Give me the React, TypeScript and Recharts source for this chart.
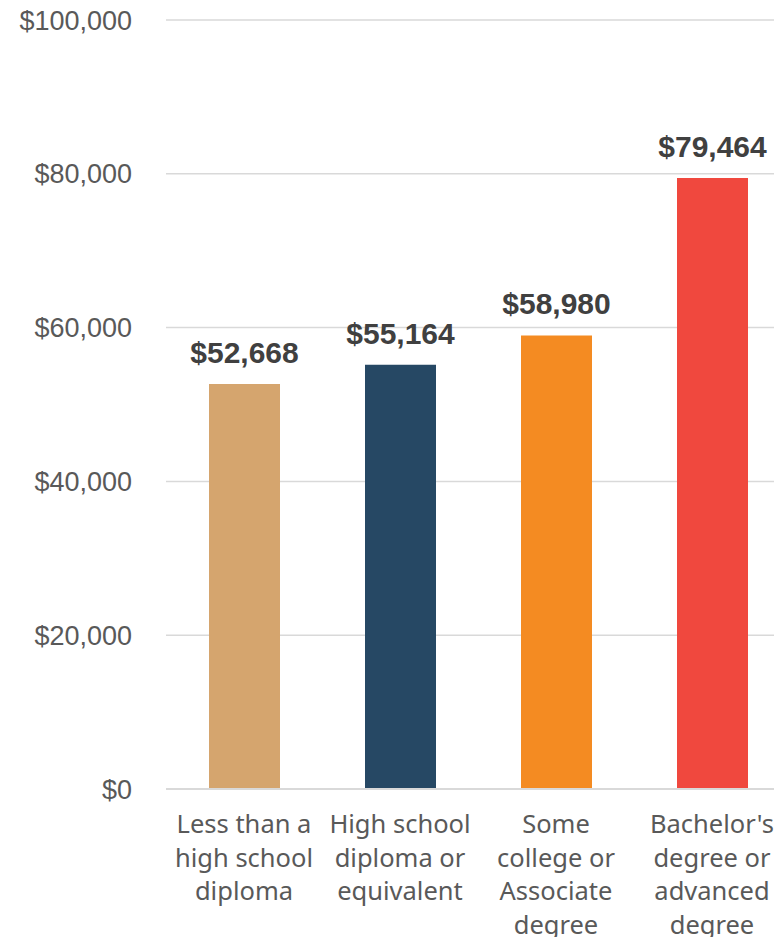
import { Bar, BarChart, CartesianGrid, Cell, LabelList, XAxis, YAxis } from 'recharts'

const categories = [
  'Less than a\nhigh school\ndiploma',
  'High school\ndiploma or\nequivalent',
  'Some\ncollege or\nAssociate\ndegree',
  "Bachelor's\ndegree or\nadvanced\ndegree",
]
const incomes = [52668, 55164, 58980, 79464]
const barColors = ['#D5A56E', '#264864', '#F48B22', '#F0483E']
const yTicks = [0, 20000, 40000, 60000, 80000, 100000]

const chartData = categories.map((name, i) => ({ name, income: incomes[i] }))

const gridStroke = '#D9D9D9'

function formatDollar(value: number) {
  return '$' + value.toLocaleString('en-US')
}

function CategoryTick(props: any) {
  const { x, payload } = props
  // first baseline sits 44px under the axis line
  const top = 789
  const lines: string[] = String(payload.value).split('\n')
  return (
    <text
      x={x}
      y={top}
      textAnchor="middle"
      fill="#595959"
      fontFamily="'Noto Sans', sans-serif"
      fontSize={25.5}
    >
      {lines.map((line, i) => (
        <tspan key={i} x={x} y={top + 44 + i * 33.6}>
          {line}
        </tspan>
      ))}
    </text>
  )
}

export default function App() {
  return (
    <div
      style={{
        position: 'fixed',
        left: 0,
        top: 0,
        width: 774,
        height: 937,
        overflow: 'hidden',
        background: '#fff',
      }}
    >
      <BarChart
        width={800}
        height={960}
        data={chartData}
        margin={{ top: 20, right: 10, left: 0, bottom: 0 }}
        barSize={71}
      >
        <CartesianGrid stroke={gridStroke} strokeWidth={1.5} vertical={false} />
        <XAxis
          dataKey="name"
          height={171}
          interval={0}
          tickLine={false}
          axisLine={{ stroke: gridStroke, strokeWidth: 2 }}
          tick={<CategoryTick />}
        />
        <YAxis
          width={166}
          domain={[0, 100000]}
          ticks={yTicks}
          tickFormatter={formatDollar}
          axisLine={false}
          tickLine={false}
          tickSize={0}
          tickMargin={34}
          tick={{ fill: '#595959', fontSize: 27, fontFamily: "'Liberation Sans', Arial, sans-serif" }}
        />
        <Bar dataKey="income" isAnimationActive={false}>
          {chartData.map((d, i) => (
            <Cell key={d.name} fill={barColors[i]} />
          ))}
          <LabelList
            dataKey="income"
            position="top"
            offset={21}
            formatter={(v: any) => formatDollar(Number(v))}
            fill="#404040"
            fontSize={30}
            fontWeight="bold"
            fontFamily="'Liberation Sans', Arial, sans-serif"
          />
        </Bar>
      </BarChart>
    </div>
  )
}
